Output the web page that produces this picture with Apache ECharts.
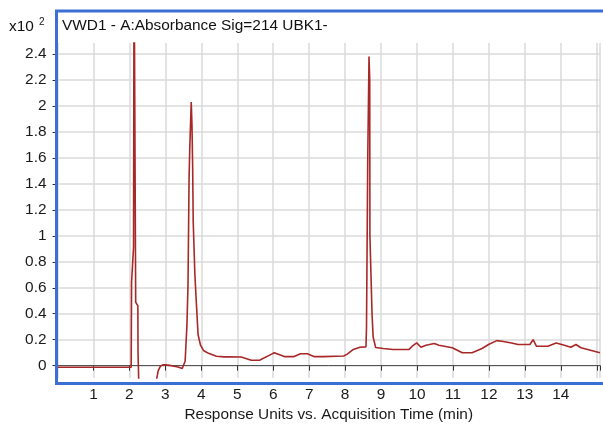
<!DOCTYPE html>
<html>
<head>
<meta charset="utf-8">
<script src="https://cdn.jsdelivr.net/npm/echarts@6/dist/echarts.min.js"></script>
<style>
html,body{margin:0;padding:0;background:#fff;}
#c{width:603px;height:427px;}
</style>
</head>
<body>
<div id="c"></div>
<script>
// Acquisition time (min)
var times = [0, 1.0, 2.05, 2.06, 2.115, 2.13, 2.165, 2.175, 2.235, 2.24, 2.275, 2.285,
  2.72, 2.76, 2.80, 2.86, 2.93, 3.0, 3.17, 3.35, 3.47, 3.52, 3.55, 3.60, 3.63, 3.66, 3.68,
  3.72, 3.74, 3.76, 3.775, 3.82, 3.865, 3.91, 3.975, 4.06, 4.2, 4.42, 4.64, 4.69, 4.75,
  5.11, 5.39, 5.62, 5.94, 6.03, 6.31, 6.58, 6.76, 6.95, 7.13, 7.41, 7.45, 7.96, 8.05,
  8.23, 8.41, 8.58, 8.595, 8.63, 8.665, 8.685, 8.69, 8.75, 8.78, 8.85, 9.06, 9.33, 9.78,
  9.87, 9.99, 10.11, 10.25, 10.48, 10.61, 10.98, 11.26, 11.53, 11.81, 11.99, 12.22, 12.36,
  12.63, 12.81, 13.14, 13.23, 13.32, 13.64, 13.87, 14.1, 14.28, 14.42, 14.56, 15.09];
// Response (x10^2)
var responses = [-0.012, -0.012, -0.012, 0.64, 0.91, 3.2, 3.2, 0.49, 0.46, 0.10, 0.09, -0.4,
  -0.4, -0.1, -0.04, -0.005, 0.006, 0.006, 0.0, -0.01, -0.022, -0.015, 0.034, 0.31, 0.62, 1.45, 1.68,
  2.03, 1.86, 1.52, 1.11, 0.71, 0.47, 0.24, 0.16, 0.117, 0.095, 0.072, 0.068, 0.08, 0.068,
  0.067, 0.042, 0.042, 0.087, 0.10, 0.07, 0.07, 0.092, 0.092, 0.07, 0.07, 0.082, 0.074, 0.087,
  0.125, 0.142, 0.145, 0.29, 1.60, 2.38, 2.2, 1.0, 0.39, 0.22, 0.14, 0.132, 0.125, 0.125,
  0.15, 0.175, 0.142, 0.157, 0.17, 0.157, 0.138, 0.10, 0.10, 0.132, 0.163, 0.193, 0.188,
  0.175, 0.163, 0.163, 0.2, 0.15, 0.15, 0.175, 0.157, 0.142, 0.163, 0.138, 0.10];
var yTicks = [0, 0.2, 0.4, 0.6, 0.8, 1, 1.2, 1.4, 1.6, 1.8, 2, 2.2, 2.4];
var xTickLabels = [1, 2, 3, 4, 5, 6, 7, 8, 9, 10, 11, 12, 13, 14];
var titleText = 'VWD1 - A:Absorbance Sig=214 UBK1-';
var xName = 'Response Units vs. Acquisition Time (min)';

var data = times.map(function (t, i) { return [t, responses[i]]; });
var FONT = 'Liberation Sans, Arial, sans-serif';
var chart = echarts.init(document.getElementById('c'), null, {renderer: 'canvas'});
chart.setOption({
  animation: false,
  backgroundColor: '#ffffff',
  grid: {left: 57.5, top: 43, right: -3, bottom: 43, containLabel: false},
  xAxis: {
    type: 'value', min: 0, max: 15.09, interval: 1, offset: 3,
    name: xName, nameLocation: 'middle', nameGap: 26,
    nameTextStyle: {fontFamily: FONT, fontSize: 15.4, color: '#1a1a1a'},
    axisLine: {show: true, lineStyle: {color: '#555', width: 1}},
    axisTick: {show: true, length: 5, lineStyle: {color: '#333'}},
    axisLabel: {
      fontFamily: FONT, fontSize: 15.4, color: '#1a1a1a', margin: 6,
      formatter: function (v) { return xTickLabels.indexOf(v) >= 0 ? String(v) : ''; }
    },
    splitLine: {show: true, lineStyle: {color: '#dadada', width: 1.5}}
  },
  yAxis: {
    type: 'value', min: -0.095, max: 2.485, offset: 4,
    axisLine: {show: true, lineStyle: {color: '#333', width: 1}},
    axisTick: {show: true, length: 5, customValues: yTicks, lineStyle: {color: '#333'}},
    axisLabel: {fontFamily: FONT, fontSize: 15.4, color: '#1a1a1a', margin: 7, customValues: yTicks},
    splitLine: {show: true, lineStyle: {color: '#dadada', width: 1.5}}
  },
  series: [{
    type: 'line', data: data, showSymbol: false, clip: true,
    lineStyle: {color: '#a82828', width: 1.6},
    itemStyle: {color: '#a82828'}
  }],
  graphic: [
    {type: 'rect', z: 100, shape: {x: 56.5, y: 11, width: 560, height: 372.5},
     style: {fill: null, stroke: '#3b6fd4', lineWidth: 3}},
    {type: 'text', z: 101, left: 62, top: 18,
     style: {text: titleText, font: '15.4px ' + FONT, fill: '#111'}},
    {type: 'text', z: 101, left: 9, top: 19,
     style: {text: 'x10', font: '15.4px ' + FONT, fill: '#111'}},
    {type: 'text', z: 101, left: 39, top: 17,
     style: {text: '2', font: '10px ' + FONT, fill: '#111'}}
  ]
});
</script>
</body>
</html>
